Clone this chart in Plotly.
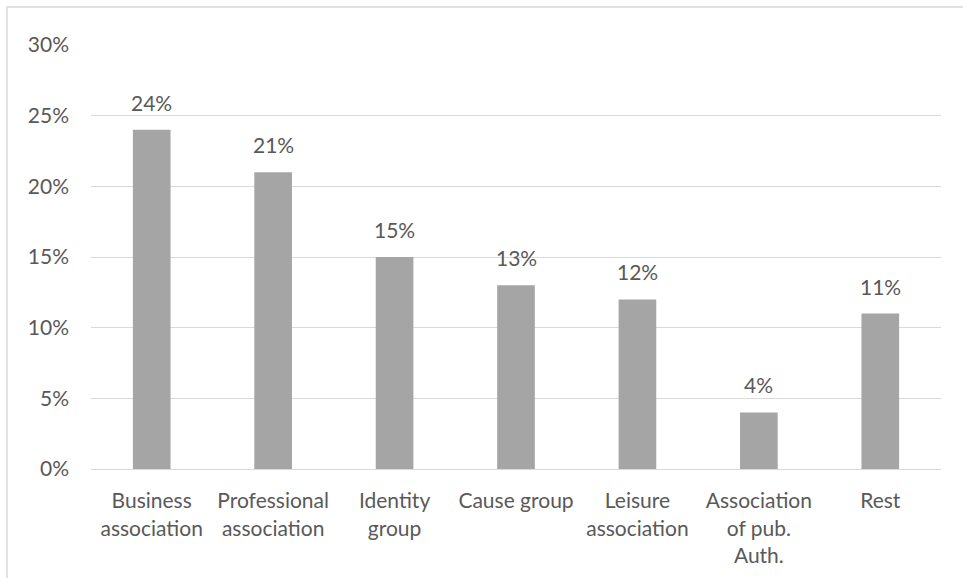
import plotly.graph_objects as go

categories = [
    "Business<br>association",
    "Professional<br>association",
    "Identity<br>group",
    "Cause group",
    "Leisure<br>association",
    "Association<br>of pub.<br>Auth.",
    "Rest",
]
shares = [24, 21, 15, 13, 12, 4, 11]  # percent
y_ticks = [0, 5, 10, 15, 20, 25, 30]
y_tick_labels = [f"{v}%" for v in y_ticks]

FONT = "Lato"
FONT_SIZE = 21
TEXT_COLOR = "#595959"
GRID_COLOR = "#D9D9D9"
BAR_COLOR = "#A5A5A5"

fig = go.Figure()
fig.add_trace(go.Bar(
    x=categories,
    y=shares,
    marker=dict(color=BAR_COLOR, line=dict(width=0)),
    hoverinfo="skip",
))

# value labels above each bar
for cat, val in zip(categories, shares):
    fig.add_annotation(
        x=cat, y=val, text=f"{val}%", showarrow=False,
        xref="x", yref="y", yanchor="bottom", yshift=13,
        font=dict(family=FONT, size=FONT_SIZE, color=TEXT_COLOR),
    )

# light frame around the chart area
fig.add_shape(
    type="rect", xref="paper", yref="paper",
    x0=-84 / 850, x1=1000 / 850, y0=-200 / 424, y1=462 / 424,
    line=dict(color=GRID_COLOR, width=1.5), fillcolor="rgba(0,0,0,0)",
    layer="below",
)

fig.update_layout(
    width=963, height=578,
    margin=dict(l=91, r=22, t=45, b=109),
    paper_bgcolor="white", plot_bgcolor="white",
    bargap=0.69,
    showlegend=False,
    font=dict(family=FONT, size=FONT_SIZE, color=TEXT_COLOR),
    xaxis=dict(
        showgrid=False, showline=True, linecolor=GRID_COLOR, linewidth=1,
        ticks="", tickfont=dict(family=FONT, size=FONT_SIZE, color=TEXT_COLOR),
        ticklabelstandoff=13,
    ),
    yaxis=dict(
        range=[0, 30], tickvals=y_ticks, ticktext=y_tick_labels,
        showgrid=True, gridcolor=GRID_COLOR, gridwidth=1,
        zeroline=False, showline=False, ticks="",
        tickfont=dict(family=FONT, size=FONT_SIZE, color=TEXT_COLOR),
        ticklabelstandoff=21,
    ),
)

fig.write_html("out.html")
